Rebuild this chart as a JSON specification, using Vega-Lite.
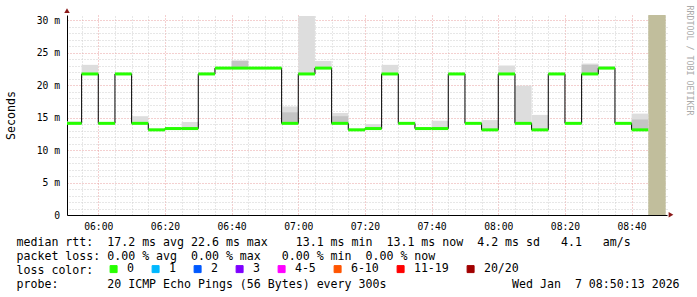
{
  "$schema": "https://vega.github.io/schema/vega-lite/v6.json",
  "width": 600,
  "height": 200,
  "autosize": {"type": "none"},
  "padding": {"left": 67, "top": 15, "right": 30, "bottom": 82},
  "background": "white",
  "config": {"view": {"stroke": null}, "font": "DejaVu Sans Mono"},
  "datasets": {
    "unknown": [{"start": "2026-01-07T08:45:00", "end": "2026-01-07T08:50:13", "lo": 0, "hi": 30.77}],
    "pings": [
      {"start": "2026-01-07T05:50:00", "end": "2026-01-07T05:55:00", "median": 14.1, "smokeHi": 14.4, "loss": "0"},
      {"start": "2026-01-07T05:55:00", "end": "2026-01-07T06:00:00", "median": 21.7, "smokeHi": 23.1, "loss": "0"},
      {"start": "2026-01-07T06:00:00", "end": "2026-01-07T06:05:00", "median": 14.1, "smokeHi": 14.3, "loss": "0"},
      {"start": "2026-01-07T06:05:00", "end": "2026-01-07T06:10:00", "median": 21.7, "smokeHi": 21.9, "loss": "0"},
      {"start": "2026-01-07T06:10:00", "end": "2026-01-07T06:15:00", "median": 14.1, "smokeHi": 15.2, "loss": "0"},
      {"start": "2026-01-07T06:15:00", "end": "2026-01-07T06:20:00", "median": 13.1, "smokeHi": 13.3, "loss": "0"},
      {"start": "2026-01-07T06:20:00", "end": "2026-01-07T06:25:00", "median": 13.3, "smokeHi": 13.5, "loss": "0"},
      {"start": "2026-01-07T06:25:00", "end": "2026-01-07T06:30:00", "median": 13.3, "smokeHi": 14.3, "loss": "0"},
      {"start": "2026-01-07T06:30:00", "end": "2026-01-07T06:35:00", "median": 21.7, "smokeHi": 21.9, "loss": "0"},
      {"start": "2026-01-07T06:35:00", "end": "2026-01-07T06:40:00", "median": 22.6, "smokeHi": 22.7, "loss": "0"},
      {"start": "2026-01-07T06:40:00", "end": "2026-01-07T06:45:00", "median": 22.6, "smokeHi": 23.8, "darkHi": 23.7, "loss": "0"},
      {"start": "2026-01-07T06:45:00", "end": "2026-01-07T06:50:00", "median": 22.6, "loss": "0"},
      {"start": "2026-01-07T06:50:00", "end": "2026-01-07T06:55:00", "median": 22.6, "loss": "0"},
      {"start": "2026-01-07T06:55:00", "end": "2026-01-07T07:00:00", "median": 14.1, "smokeHi": 16.7, "darkHi": 15.8, "loss": "0"},
      {"start": "2026-01-07T07:00:00", "end": "2026-01-07T07:05:00", "median": 21.7, "smokeHi": 30.6, "loss": "0"},
      {"start": "2026-01-07T07:05:00", "end": "2026-01-07T07:10:00", "median": 22.6, "smokeHi": 23.7, "loss": "0"},
      {"start": "2026-01-07T07:10:00", "end": "2026-01-07T07:15:00", "median": 14.1, "smokeHi": 15.7, "darkHi": 15.2, "loss": "0"},
      {"start": "2026-01-07T07:15:00", "end": "2026-01-07T07:20:00", "median": 13.1, "smokeHi": 13.3, "loss": "0"},
      {"start": "2026-01-07T07:20:00", "end": "2026-01-07T07:25:00", "median": 13.3, "smokeHi": 14.0, "loss": "0"},
      {"start": "2026-01-07T07:25:00", "end": "2026-01-07T07:30:00", "median": 21.7, "smokeHi": 23.1, "loss": "0"},
      {"start": "2026-01-07T07:30:00", "end": "2026-01-07T07:35:00", "median": 14.1, "loss": "0"},
      {"start": "2026-01-07T07:35:00", "end": "2026-01-07T07:40:00", "median": 13.3, "loss": "0"},
      {"start": "2026-01-07T07:40:00", "end": "2026-01-07T07:45:00", "median": 13.3, "smokeHi": 14.5, "loss": "0"},
      {"start": "2026-01-07T07:45:00", "end": "2026-01-07T07:50:00", "median": 21.7, "loss": "0"},
      {"start": "2026-01-07T07:50:00", "end": "2026-01-07T07:55:00", "median": 14.1, "loss": "0"},
      {"start": "2026-01-07T07:55:00", "end": "2026-01-07T08:00:00", "median": 13.1, "smokeHi": 14.6, "loss": "0"},
      {"start": "2026-01-07T08:00:00", "end": "2026-01-07T08:05:00", "median": 21.7, "smokeHi": 23.0, "loss": "0"},
      {"start": "2026-01-07T08:05:00", "end": "2026-01-07T08:10:00", "median": 14.1, "smokeHi": 19.9, "loss": "0"},
      {"start": "2026-01-07T08:10:00", "end": "2026-01-07T08:15:00", "median": 13.1, "smokeHi": 15.4, "loss": "0"},
      {"start": "2026-01-07T08:15:00", "end": "2026-01-07T08:20:00", "median": 21.7, "loss": "0"},
      {"start": "2026-01-07T08:20:00", "end": "2026-01-07T08:25:00", "median": 14.1, "loss": "0"},
      {"start": "2026-01-07T08:25:00", "end": "2026-01-07T08:30:00", "median": 21.7, "smokeHi": 23.3, "darkHi": 23.1, "loss": "0"},
      {"start": "2026-01-07T08:30:00", "end": "2026-01-07T08:35:00", "median": 22.6, "smokeHi": 22.9, "loss": "0"},
      {"start": "2026-01-07T08:35:00", "end": "2026-01-07T08:40:00", "median": 14.1, "loss": "0"},
      {"start": "2026-01-07T08:40:00", "end": "2026-01-07T08:45:00", "median": 13.1, "smokeHi": 15.6, "darkHi": 14.7, "loss": "0"}
    ]
  },
  "layer": [
    {
      "data": {"name": "unknown"},
      "mark": {"type": "rect", "color": "#c1be9c"},
      "encoding": {
        "x": {"field": "start", "type": "temporal",
          "scale": {"domain": [{"year": 2026, "month": 1, "date": 7, "hours": 5, "minutes": 50, "seconds": 37}, {"year": 2026, "month": 1, "date": 7, "hours": 8, "minutes": 50, "seconds": 37}], "nice": false},
          "axis": {"orient": "bottom", "format": "%H:%M",
            "values": [
              {"year": 2026, "month": 1, "date": 7, "hours": 6, "minutes": 0},
              {"year": 2026, "month": 1, "date": 7, "hours": 6, "minutes": 20},
              {"year": 2026, "month": 1, "date": 7, "hours": 6, "minutes": 40},
              {"year": 2026, "month": 1, "date": 7, "hours": 7, "minutes": 0},
              {"year": 2026, "month": 1, "date": 7, "hours": 7, "minutes": 20},
              {"year": 2026, "month": 1, "date": 7, "hours": 7, "minutes": 40},
              {"year": 2026, "month": 1, "date": 7, "hours": 8, "minutes": 0},
              {"year": 2026, "month": 1, "date": 7, "hours": 8, "minutes": 20},
              {"year": 2026, "month": 1, "date": 7, "hours": 8, "minutes": 40}
            ],
            "labelFont": "DejaVu Sans Mono", "labelFontSize": 9.7, "labelColor": "#000", "labelPadding": 6, "labelFlush": false, "labelOverlap": false,
            "ticks": false, "domain": true, "domainColor": "#000", "domainWidth": 1,
            "grid": true, "gridColor": "#e8a0a0", "gridDash": [1, 2], "gridWidth": 1,
            "title": ["median rtt:\u00a0\u00a017.2 ms avg\u00a022.6 ms max\u00a0\u00a0\u00a0\u00a013.1 ms min\u00a0\u00a013.1 ms now\u00a0\u00a04.2 ms sd\u00a0\u00a0\u00a04.1\u00a0\u00a0\u00a0am/s",
                      "packet loss:\u00a00.00 % avg\u00a0\u00a00.00 % max\u00a0\u00a0\u00a00.00 % min\u00a0\u00a00.00 % now",
                      "loss color:",
                      "probe:\u00a0\u00a0\u00a0\u00a0\u00a0\u00a0\u00a020 ICMP Echo Pings (56 Bytes) every 300s\u00a0\u00a0\u00a0\u00a0\u00a0\u00a0\u00a0\u00a0\u00a0\u00a0\u00a0\u00a0\u00a0\u00a0\u00a0\u00a0\u00a0\u00a0Wed Jan\u00a0\u00a07 08:50:13 2026"],
            "titleFont": "DejaVu Sans Mono", "titleFontSize": 11.6, "titleFontWeight": "normal", "titleColor": "#000",
            "titleAlign": "left", "titleAnchor": "start", "titleBaseline": "alphabetic", "titleX": -51, "titleY": 30, "titleLineHeight": 14}},
        "x2": {"field": "end"},
        "y": {"field": "lo", "type": "quantitative",
          "scale": {"domain": [0, 30.77], "nice": false, "zero": false},
          "axis": {"orient": "left", "values": [0, 5, 10, 15, 20, 25, 30],
            "labelExpr": "datum.value == 0 ? '0\u00a0\u00a0\u00a0\u00a0' : datum.value + ' m'",
            "labelFont": "DejaVu Sans Mono", "labelFontSize": 9.7, "labelColor": "#000", "labelPadding": 7.5, "labelFlush": false, "labelOverlap": false,
            "ticks": false, "domain": true, "domainColor": "#000", "domainWidth": 1,
            "grid": true, "gridColor": "#e8a0a0", "gridDash": [1, 2], "gridWidth": 1,
            "title": "Seconds", "titleFont": "DejaVu Sans Mono", "titleFontSize": 11.6, "titleFontWeight": "normal", "titleColor": "#000",
            "titleAngle": 270, "titleX": -56, "titleY": 100, "titleAlign": "center", "titleBaseline": "middle"}},
        "y2": {"field": "hi"}
      }
    },
    {
      "data": {"name": "pings"},
      "transform": [{"filter": "datum.smokeHi != null"}],
      "mark": {"type": "rect", "color": "#dddddd", "clip": true},
      "encoding": {
        "x": {"field": "start", "type": "temporal",
          "scale": {"domain": [{"year": 2026, "month": 1, "date": 7, "hours": 5, "minutes": 50, "seconds": 37}, {"year": 2026, "month": 1, "date": 7, "hours": 8, "minutes": 50, "seconds": 37}], "nice": false},
          "axis": {"orient": "top", "labels": false, "ticks": false, "domain": false, "title": null,
            "grid": true, "gridColor": "#cfcfcf", "gridDash": [1, 2], "gridWidth": 1,
            "values": [
              {"year": 2026, "month": 1, "date": 7, "hours": 5, "minutes": 55},
              {"year": 2026, "month": 1, "date": 7, "hours": 6, "minutes": 5},
              {"year": 2026, "month": 1, "date": 7, "hours": 6, "minutes": 10},
              {"year": 2026, "month": 1, "date": 7, "hours": 6, "minutes": 15},
              {"year": 2026, "month": 1, "date": 7, "hours": 6, "minutes": 25},
              {"year": 2026, "month": 1, "date": 7, "hours": 6, "minutes": 30},
              {"year": 2026, "month": 1, "date": 7, "hours": 6, "minutes": 35},
              {"year": 2026, "month": 1, "date": 7, "hours": 6, "minutes": 45},
              {"year": 2026, "month": 1, "date": 7, "hours": 6, "minutes": 50},
              {"year": 2026, "month": 1, "date": 7, "hours": 6, "minutes": 55},
              {"year": 2026, "month": 1, "date": 7, "hours": 7, "minutes": 5},
              {"year": 2026, "month": 1, "date": 7, "hours": 7, "minutes": 10},
              {"year": 2026, "month": 1, "date": 7, "hours": 7, "minutes": 15},
              {"year": 2026, "month": 1, "date": 7, "hours": 7, "minutes": 25},
              {"year": 2026, "month": 1, "date": 7, "hours": 7, "minutes": 30},
              {"year": 2026, "month": 1, "date": 7, "hours": 7, "minutes": 35},
              {"year": 2026, "month": 1, "date": 7, "hours": 7, "minutes": 45},
              {"year": 2026, "month": 1, "date": 7, "hours": 7, "minutes": 50},
              {"year": 2026, "month": 1, "date": 7, "hours": 7, "minutes": 55},
              {"year": 2026, "month": 1, "date": 7, "hours": 8, "minutes": 5},
              {"year": 2026, "month": 1, "date": 7, "hours": 8, "minutes": 10},
              {"year": 2026, "month": 1, "date": 7, "hours": 8, "minutes": 15},
              {"year": 2026, "month": 1, "date": 7, "hours": 8, "minutes": 25},
              {"year": 2026, "month": 1, "date": 7, "hours": 8, "minutes": 30},
              {"year": 2026, "month": 1, "date": 7, "hours": 8, "minutes": 35},
              {"year": 2026, "month": 1, "date": 7, "hours": 8, "minutes": 45},
              {"year": 2026, "month": 1, "date": 7, "hours": 8, "minutes": 50}
            ]}},
        "x2": {"field": "end"},
        "y": {"field": "median", "type": "quantitative",
          "scale": {"domain": [0, 30.77], "nice": false, "zero": false},
          "axis": {"orient": "right", "labels": false, "ticks": false, "domain": false,
            "values": [1, 2, 3, 4, 6, 7, 8, 9, 11, 12, 13, 14, 16, 17, 18, 19, 21, 22, 23, 24, 26, 27, 28, 29],
            "grid": true, "gridColor": "#cfcfcf", "gridDash": [1, 2], "gridWidth": 1,
            "title": "RRDTOOL / TOBI OETIKER", "titleFont": "DejaVu Sans Mono", "titleFontSize": 8.3, "titleFontWeight": "normal", "titleColor": "#aaaaaa",
            "titleAngle": 90, "titleX": 21, "titleY": 45, "titleAlign": "center", "titleBaseline": "middle"}},
        "y2": {"field": "smokeHi"}
      }
    },
    {
      "data": {"name": "pings"},
      "transform": [{"filter": "datum.darkHi != null"}],
      "mark": {"type": "rect", "color": "#c4c4c4", "clip": true},
      "encoding": {
        "x": {"field": "start", "type": "temporal",
          "scale": {"domain": [{"year": 2026, "month": 1, "date": 7, "hours": 5, "minutes": 50, "seconds": 37}, {"year": 2026, "month": 1, "date": 7, "hours": 8, "minutes": 50, "seconds": 37}], "nice": false},
          "axis": null},
        "x2": {"field": "end"},
        "y": {"field": "median", "type": "quantitative", "scale": {"domain": [0, 30.77], "nice": false, "zero": false}, "axis": null},
        "y2": {"field": "darkHi"}
      }
    },
    {
      "data": {"name": "pings"},
      "mark": {"type": "square", "size": 0, "filled": true, "opacity": 1, "stroke": "#000", "strokeWidth": 1, "clip": true},
      "encoding": {
        "x": {"field": "start", "type": "temporal",
          "scale": {"domain": [{"year": 2026, "month": 1, "date": 7, "hours": 5, "minutes": 50, "seconds": 37}, {"year": 2026, "month": 1, "date": 7, "hours": 8, "minutes": 50, "seconds": 37}], "nice": false},
          "axis": null},
        "y": {"field": "median", "type": "quantitative", "scale": {"domain": [0, 30.77], "nice": false, "zero": false}, "axis": null},
        "color": {"field": "loss", "type": "nominal",
          "scale": {"domain": ["0", "1", "2", "3", "4-5", "6-10", "11-19", "20/20"],
                    "range": ["#26ff00", "#00b8ff", "#0059ff", "#7e00ff", "#ff00ff", "#ff5500", "#ff0000", "#a10000"]},
          "legend": {"orient": "none", "legendX": 40.8, "legendY": 248, "direction": "horizontal", "title": null, "padding": 0,
            "symbolType": "square", "symbolSize": 49, "symbolStrokeColor": "#000", "symbolStrokeWidth": 1, "symbolOpacity": 1,
            "labelFont": "DejaVu Sans Mono", "labelFontSize": 11.6, "labelColor": "#000", "labelOffset": 7.5, "columnPadding": 15}}
      }
    },
    {
      "data": {"name": "pings"},
      "mark": {"type": "line", "interpolate": "step-after", "color": "#000", "strokeWidth": 1, "clip": true},
      "encoding": {
        "x": {"field": "start", "type": "temporal",
          "scale": {"domain": [{"year": 2026, "month": 1, "date": 7, "hours": 5, "minutes": 50, "seconds": 37}, {"year": 2026, "month": 1, "date": 7, "hours": 8, "minutes": 50, "seconds": 37}], "nice": false},
          "axis": null},
        "y": {"field": "median", "type": "quantitative", "scale": {"domain": [0, 30.77], "nice": false, "zero": false}, "axis": null}
      }
    },
    {
      "data": {"name": "pings"},
      "mark": {"type": "rule", "strokeWidth": 3, "strokeCap": "butt", "clip": true},
      "encoding": {
        "x": {"field": "start", "type": "temporal",
          "scale": {"domain": [{"year": 2026, "month": 1, "date": 7, "hours": 5, "minutes": 50, "seconds": 37}, {"year": 2026, "month": 1, "date": 7, "hours": 8, "minutes": 50, "seconds": 37}], "nice": false},
          "axis": null},
        "x2": {"field": "end"},
        "y": {"field": "median", "type": "quantitative", "scale": {"domain": [0, 30.77], "nice": false, "zero": false}, "axis": null},
        "color": {"field": "loss", "type": "nominal",
          "scale": {"domain": ["0", "1", "2", "3", "4-5", "6-10", "11-19", "20/20"],
                    "range": ["#26ff00", "#00b8ff", "#0059ff", "#7e00ff", "#ff00ff", "#ff5500", "#ff0000", "#a10000"]},
          "legend": null}
      }
    },
    {
      "data": {"values": [{"t": "2026-01-07T05:50:37", "v": 31.45}]},
      "mark": {"type": "point", "shape": "triangle-up", "filled": true, "fill": "#8b1a1a", "stroke": null, "size": 30, "opacity": 1, "clip": false},
      "encoding": {
        "x": {"field": "t", "type": "temporal",
          "scale": {"domain": [{"year": 2026, "month": 1, "date": 7, "hours": 5, "minutes": 50, "seconds": 37}, {"year": 2026, "month": 1, "date": 7, "hours": 8, "minutes": 50, "seconds": 37}], "nice": false},
          "axis": null},
        "y": {"field": "v", "type": "quantitative", "scale": {"domain": [0, 30.77], "nice": false, "zero": false}, "axis": null}
      }
    },
    {
      "data": {"values": [{"t": "2026-01-07T08:51:49", "v": 0.05}]},
      "mark": {"type": "point", "shape": "triangle-right", "filled": true, "fill": "#8b1a1a", "stroke": null, "size": 30, "opacity": 1, "clip": false},
      "encoding": {
        "x": {"field": "t", "type": "temporal",
          "scale": {"domain": [{"year": 2026, "month": 1, "date": 7, "hours": 5, "minutes": 50, "seconds": 37}, {"year": 2026, "month": 1, "date": 7, "hours": 8, "minutes": 50, "seconds": 37}], "nice": false},
          "axis": null},
        "y": {"field": "v", "type": "quantitative", "scale": {"domain": [0, 30.77], "nice": false, "zero": false}, "axis": null}
      }
    }
  ],
  "resolve": {"axis": {"x": "independent", "y": "independent"}}
}
